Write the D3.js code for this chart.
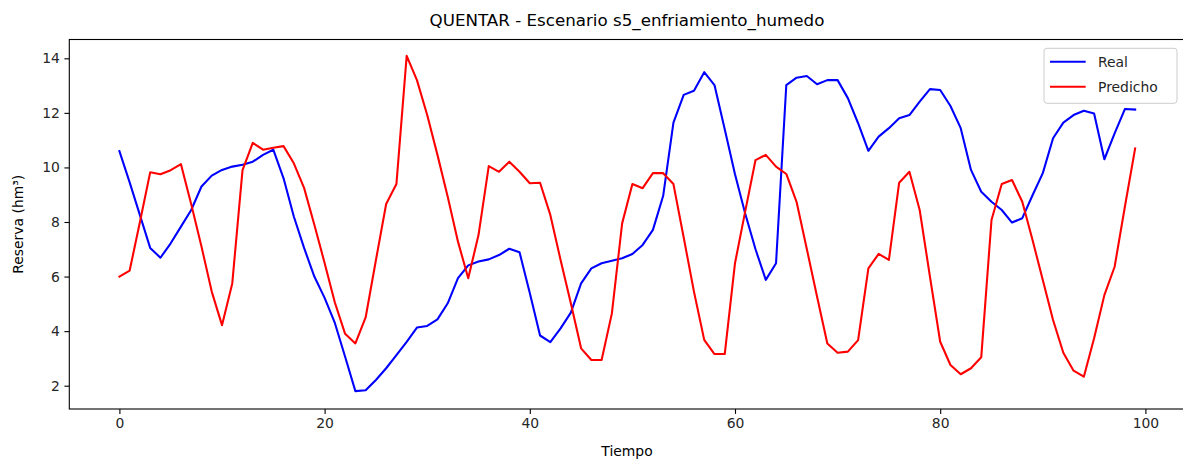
<!DOCTYPE html>
<html>
<head>
<meta charset="utf-8">
<script src="https://cdn.jsdelivr.net/npm/d3@7"></script>
<style>
  html, body { margin: 0; padding: 0; background: #fff; }
  svg { display: block; font-family: "DejaVu Sans", sans-serif; }
</style>
</head>
<body>
<svg id="chart" width="1183" height="462"></svg>
<script>
const title = "QUENTAR - Escenario s5_enfriamiento_humedo";
const xLabel = "Tiempo";
const yLabel = "Reserva (hm³)";
const seriesNames = ["Real", "Predicho"];
const seriesColors = ["#0000ff", "#ff0000"];
const xTicks = [0, 20, 40, 60, 80, 100];
const yTicks = [2, 4, 6, 8, 10, 12, 14];

const real = [
  10.6, 9.45, 8.25, 7.05, 6.69, 7.22, 7.83, 8.44, 9.3, 9.7,
  9.91, 10.03, 10.1, 10.21, 10.46, 10.65, 9.6, 8.2, 7.05, 6.0,
  5.22, 4.3, 3.06, 1.8, 1.83, 2.21, 2.64, 3.12, 3.61, 4.13,
  4.19, 4.43, 5.02, 5.94, 6.41, 6.55, 6.63, 6.79, 7.02, 6.89,
  5.4, 3.84, 3.6, 4.1, 4.68, 5.75, 6.3, 6.49, 6.58, 6.67,
  6.83, 7.16, 7.71, 8.96, 11.64, 12.66, 12.81, 13.49, 13.02, 11.4,
  9.75, 8.3, 7.0, 5.88, 6.49, 13.02, 13.29, 13.35, 13.05, 13.2,
  13.2, 12.54, 11.62, 10.61, 11.13, 11.44, 11.8, 11.92, 12.41, 12.87,
  12.84, 12.25, 11.44, 9.91, 9.11, 8.74, 8.44, 7.98, 8.14, 8.98,
  9.79, 11.07, 11.64, 11.92, 12.08, 11.98, 10.3, 11.25, 12.14, 12.12
];
const predicho = [
  6.0, 6.22, 8.0, 9.82, 9.75, 9.9, 10.12, 8.65, 7.1, 5.45,
  4.22, 5.75, 9.9, 10.9, 10.65, 10.72, 10.78, 10.15, 9.25, 7.9,
  6.5, 5.05, 3.9, 3.55, 4.5, 6.6, 8.66, 9.39, 14.09, 13.2,
  11.92, 10.46, 8.93, 7.28, 5.94, 7.52, 10.05, 9.84, 10.21, 9.84,
  9.42, 9.44, 8.26, 6.61, 5.02, 3.37, 2.94, 2.94, 4.65, 7.95,
  9.39, 9.24, 9.79, 9.79, 9.39, 7.43, 5.45, 3.68, 3.16, 3.16,
  6.49, 8.4, 10.27, 10.46, 10.03, 9.76, 8.74, 7.01, 5.26, 3.55,
  3.21, 3.25, 3.67, 6.3, 6.83, 6.61, 9.44, 9.84, 8.44, 6.0,
  3.61, 2.76, 2.42, 2.64, 3.04, 8.07, 9.39, 9.54, 8.74, 7.34,
  5.87, 4.41, 3.21, 2.55, 2.33, 3.74, 5.32, 6.36, 8.56, 10.7
];

const svg = d3.select("#chart");
const frame = { left: 69.3, right: 1186, top: 39.5, bottom: 409 };

const x = d3.scaleLinear().domain([0, 100]).range([119.4, 1145.4]);
const y = d3.scaleLinear().domain([2, 14]).range([385.7, 58.3]);

// axes
const xAxis = d3.axisBottom(x).tickValues(xTicks).tickSize(4.9).tickPadding(4.5).tickFormat(d3.format("d"));
const yAxis = d3.axisLeft(y).tickValues(yTicks).tickSize(4.9).tickPadding(4.5).tickFormat(d3.format("d"));

const gx = svg.append("g").attr("transform", `translate(0,${frame.bottom})`).call(xAxis);
const gy = svg.append("g").attr("transform", `translate(${frame.left},0)`).call(yAxis);
[gx, gy].forEach(g => {
  g.select(".domain").remove();
  g.selectAll(".tick line").attr("stroke", "#000").attr("stroke-width", 1.1);
  g.selectAll(".tick text").attr("fill", "#262626").style("font-size", "13.9px").style("font-family", "DejaVu Sans");
});

// lines
const line = d3.line().x((d, i) => x(i)).y(d => y(d));
const clip = svg.append("clipPath").attr("id", "clip").append("rect")
  .attr("x", frame.left).attr("y", frame.top)
  .attr("width", frame.right - frame.left).attr("height", frame.bottom - frame.top);
const plot = svg.append("g").attr("clip-path", "url(#clip)");
[real, predicho].forEach((s, k) => {
  plot.append("path").datum(s)
    .attr("d", line)
    .attr("fill", "none")
    .attr("stroke", seriesColors[k])
    .attr("stroke-width", 2.08)
    .attr("stroke-linejoin", "round")
    .attr("stroke-linecap", "square");
});

// frame
svg.append("rect")
  .attr("x", frame.left).attr("y", frame.top)
  .attr("width", frame.right - frame.left).attr("height", frame.bottom - frame.top)
  .attr("fill", "none").attr("stroke", "#000").attr("stroke-width", 1.1);

// title and labels
svg.append("text").attr("x", 627).attr("y", 26).attr("text-anchor", "middle")
  .style("font-size", "16.7px").attr("fill", "#000").text(title);
svg.append("text").attr("x", 627).attr("y", 456).attr("text-anchor", "middle")
  .style("font-size", "13.9px").attr("fill", "#000").text(xLabel);
svg.append("text").attr("transform", `translate(23,${(frame.top + frame.bottom) / 2}) rotate(-90)`)
  .attr("text-anchor", "middle").style("font-size", "13.9px").attr("fill", "#000").text(yLabel);

// legend
const lg = svg.append("g");
lg.append("rect").attr("x", 1044).attr("y", 48.3).attr("width", 133).attr("height", 55)
  .attr("rx", 3).attr("ry", 3)
  .attr("fill", "#fff").attr("fill-opacity", 0.8).attr("stroke", "#cccccc").attr("stroke-width", 1);
seriesNames.forEach((n, k) => {
  const yy = 61.7 + k * 25;
  lg.append("line").attr("x1", 1050).attr("x2", 1085.7).attr("y1", yy).attr("y2", yy)
    .attr("stroke", seriesColors[k]).attr("stroke-width", 2.08);
  lg.append("text").attr("x", 1098).attr("y", yy + 5).style("font-size", "13.9px")
    .attr("fill", "#262626").text(n);
});
</script>
</body>
</html>
